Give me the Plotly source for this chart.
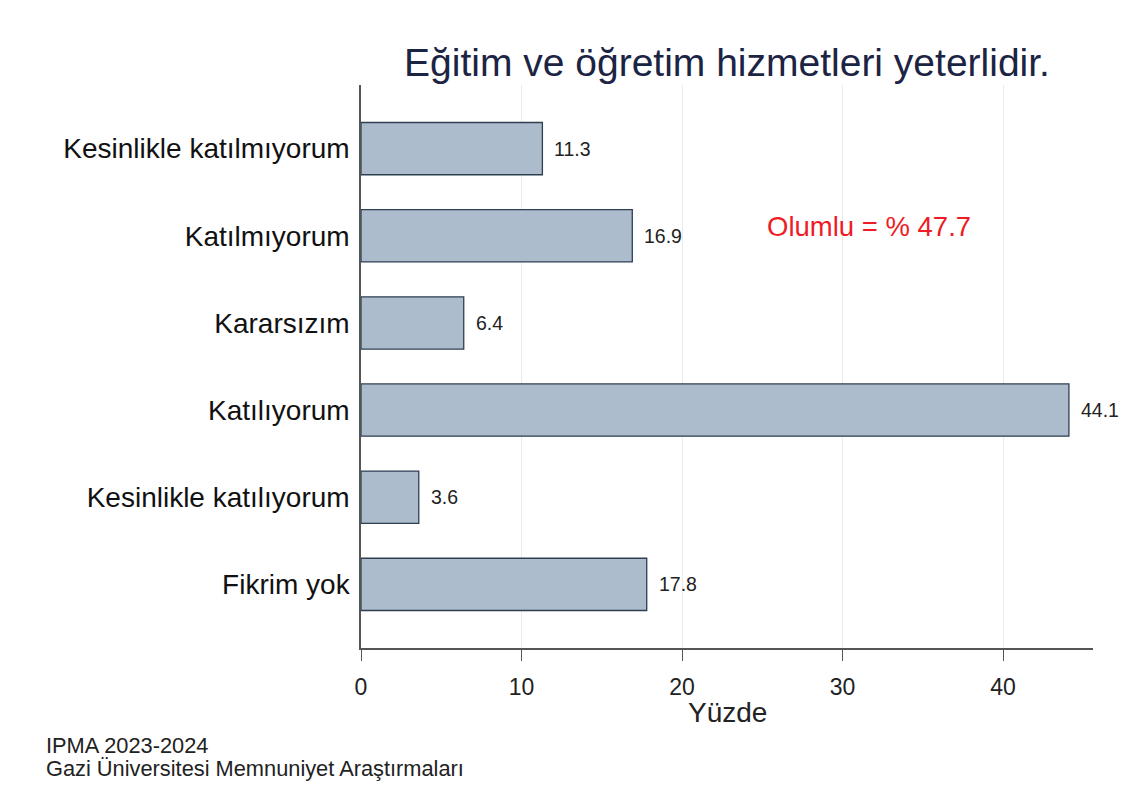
import plotly.graph_objects as go

categories = ["Kesinlikle katılmıyorum", "Katılmıyorum", "Kararsızım",
              "Katılıyorum", "Kesinlikle katılıyorum", "Fikrim yok"]
values = [11.3, 16.9, 6.4, 44.1, 3.6, 17.8]
x_ticks = [0, 10, 20, 30, 40]
title_text = "Eğitim ve öğretim hizmetleri yeterlidir."
note_text = "Olumlu = % 47.7"
x_title = "Yüzde"
source_lines = ["IPMA 2023-2024", "Gazi Üniversitesi Memnuniyet Araştırmaları"]

FONT = "Liberation Sans, Arial, sans-serif"

# body margin removed via post_script, so the figure sits at (0,0)
W, H = 1123, 811
L, R, T, B = 361, 30, 85, 163
PW, PH = W - L - R, H - T - B


def px_x(x):  # screenshot px -> paper x
    return (x - L) / PW


def px_y(y):  # screenshot px -> paper y
    return (H - B - y) / PH


fig = go.Figure()
fig.add_trace(go.Bar(
    x=values, y=categories, orientation="h", width=0.6,
    marker=dict(color="#adbccd", line=dict(color="#2e3f52", width=1.3)),
    hoverinfo="x+y",
))

for v, c in zip(values, categories):
    fig.add_annotation(x=v, y=c, text=f"{v:.1f}", showarrow=False,
                       xanchor="left", xshift=10,
                       font=dict(family=FONT, size=19.5, color="#222222"))

fig.add_annotation(x=px_x(869), y=px_y(227), xref="paper", yref="paper",
                   text=note_text, showarrow=False, xanchor="center", yanchor="middle",
                   font=dict(family=FONT, size=27.5, color="#ee1c25"))

fig.add_annotation(x=0.5, y=px_y(712), xref="paper", yref="paper",
                   text=x_title, showarrow=False, xanchor="center", yanchor="middle",
                   font=dict(family=FONT, size=28, color="#222222"))

for line, yy in zip(source_lines, [745, 768]):
    fig.add_annotation(x=px_x(44), y=px_y(yy), xref="paper", yref="paper",
                       text=line, showarrow=False,
                       xanchor="left", yanchor="middle", align="left",
                       font=dict(family=FONT, size=21.8, color="#222222"))

fig.update_layout(
    width=W, height=H,
    paper_bgcolor="white", plot_bgcolor="white",
    margin=dict(l=L, r=R, t=T, b=B),
    showlegend=False,
    title=dict(text=title_text, x=727 / W, xanchor="center",
               y=1 - 62 / H, yanchor="middle",
               font=dict(family=FONT, size=39, color="#1c2444")),
    xaxis=dict(range=[0, 45.6], tickvals=x_ticks, showgrid=True,
               gridcolor="#ebebeb", gridwidth=1, zeroline=False,
               showline=True, linecolor="#555555", linewidth=1.5,
               ticks="outside", ticklen=11, tickcolor="#555555",
               ticklabelstandoff=7,
               tickfont=dict(family=FONT, size=23, color="#222222")),
    yaxis=dict(categoryorder="array", categoryarray=categories,
               range=[5.73, -0.73], showgrid=False, zeroline=False,
               showline=True, linecolor="#555555", linewidth=1.5,
               ticks="", ticklabelstandoff=4,
               tickfont=dict(family=FONT, size=28, color="#111111")),
)

fig.write_html(
    "out.html",
    config={"displayModeBar": False},
    post_script="document.body.style.margin='0';"
                "document.body.style.overflow='hidden';"
                "document.documentElement.style.overflow='hidden';",
)
